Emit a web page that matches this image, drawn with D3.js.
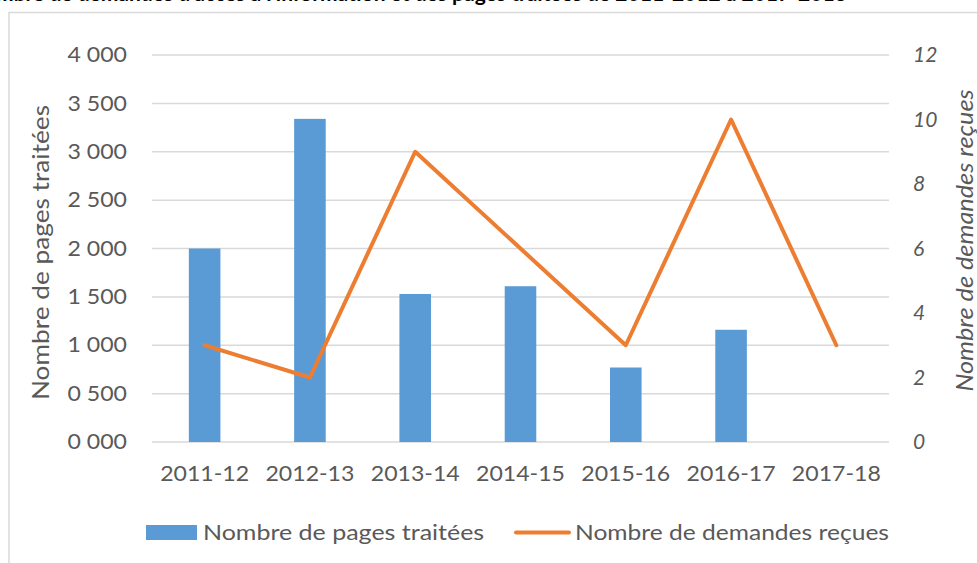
<!DOCTYPE html>
<html>
<head>
<meta charset="utf-8">
<script src="https://cdn.jsdelivr.net/npm/d3@7"></script>
<style>
  body { margin: 0; background: #fff; }
  svg { display: block; }
  text { font-family: Lato, "Open Sans", sans-serif; }
</style>
</head>
<body>
<div id="chart"></div>
<script>
// data
const categories = ["2011-12", "2012-13", "2013-14", "2014-15", "2015-16", "2016-17", "2017-18"];
const pages = [2000, 3340, 1530, 1610, 770, 1160, null];
const demandes = [3, 2, 9, 6, 3, 10, 3];
const leftTicks = [0, 500, 1000, 1500, 2000, 2500, 3000, 3500, 4000];
const leftTickLabels = ["0 000", "0 500", "1 000", "1 500", "2 000", "2 500", "3 000", "3 500", "4 000"];
const rightTicks = [0, 2, 4, 6, 8, 10, 12];

const W = 977, H = 563;
const margin = { top: 55, right: 88, bottom: 121, left: 152 };
const width = W - margin.left - margin.right,
  height = H - margin.top - margin.bottom;

const svg = d3.select("#chart").append("svg").attr("width", W).attr("height", H);

// the original text is a bit wider than Lato, so widen it
function stretch(sel, k) {
  sel.each(function () {
    const len = this.getComputedTextLength();
    d3.select(this).attr("textLength", len * k).attr("lengthAdjust", "spacingAndGlyphs");
  });
}

// cut-off title at the very top
const titleText = "Nombre de demandes d'accès à l'information et des pages traitées de 2011-2012 à 2017-2018";
const prefix = "Nombre de demandes d'accès à l'information et des ";
const tmp = svg.append("text").style("font-size", "21px").style("font-weight", "bold").text(prefix);
const prefixW = tmp.node().getComputedTextLength();
tmp.remove();
svg.append("text")
  .attr("x", 447 - prefixW)
  .attr("y", 0.7)
  .style("font-size", "21px")
  .style("font-weight", "bold")
  .style("fill", "#000")
  .text(titleText);

// chart frame
svg.append("path")
  .attr("d", `M9,${H + 5}V12.5H${W + 5}`)
  .attr("fill", "none")
  .attr("stroke", "#d9d9d9")
  .attr("stroke-width", 1.5);

const g = svg.append("g").attr("transform", `translate(${margin.left},${margin.top})`);

const x = d3.scaleBand().domain(categories).range([0, width]).paddingInner(0.7).paddingOuter(0.35);
const y = d3.scaleLinear().domain([0, 4000]).range([height, 0]);
const y2 = d3.scaleLinear().domain([0, 12]).range([height, 0]);

// gridlines
g.append("g")
  .selectAll("line")
  .data(leftTicks)
  .join("line")
  .attr("x1", 0)
  .attr("x2", width)
  .attr("y1", (d) => y(d))
  .attr("y2", (d) => y(d))
  .attr("stroke", "#d9d9d9")
  .attr("stroke-width", 1.5);

// left axis
const yAxis = g.append("g")
  .call(d3.axisLeft(y).tickValues(leftTicks).tickSize(0).tickPadding(25)
    .tickFormat((d, i) => leftTickLabels[i]));
yAxis.select(".domain").remove();
yAxis.selectAll("text")
  .style("font-size", "21px")
  .style("fill", "#595959")
  .style("font-family", "Lato, sans-serif")
  .call(stretch, 1.1);

// right axis
const y2Axis = g.append("g")
  .attr("transform", `translate(${width},0)`)
  .call(d3.axisRight(y2).tickValues(rightTicks).tickSize(0).tickPadding(24));
y2Axis.select(".domain").remove();
y2Axis.selectAll("text")
  .style("font-size", "21px")
  .style("font-style", "italic")
  .style("fill", "#595959")
  .style("font-family", "Lato, sans-serif");

// x axis labels
const xAxis = g.append("g")
  .attr("transform", `translate(0,${height})`)
  .call(d3.axisBottom(x).tickSize(0).tickPadding(24));
xAxis.select(".domain").remove();
xAxis.selectAll("text")
  .style("font-size", "21px")
  .style("fill", "#595959")
  .style("font-family", "Lato, sans-serif")
  .call(stretch, 1.1);

// bars
g.append("g")
  .selectAll("rect")
  .data(categories.map((c, i) => ({ c, v: pages[i] })).filter((d) => d.v != null))
  .join("rect")
  .attr("x", (d) => x(d.c))
  .attr("y", (d) => y(d.v))
  .attr("width", x.bandwidth())
  .attr("height", (d) => height - y(d.v))
  .attr("fill", "#5b9bd5");

// line
const line = d3.line()
  .x((d, i) => x(categories[i]) + x.bandwidth() / 2)
  .y((d) => y2(d));
g.append("path")
  .datum(demandes)
  .attr("d", line)
  .attr("fill", "none")
  .attr("stroke", "#ed7d31")
  .attr("stroke-width", 4)
  .attr("stroke-linejoin", "round")
  .attr("stroke-linecap", "round");

// axis titles
svg.append("text")
  .attr("transform", `translate(49,${margin.top + height / 2 + 4}) rotate(-90)`)
  .attr("text-anchor", "middle")
  .style("font-size", "23px")
  .style("fill", "#595959")
  .text("Nombre de pages traitées")
  .call(stretch, 1.14);

svg.append("text")
  .attr("transform", `translate(973,${margin.top + height / 2 - 8}) rotate(-90)`)
  .attr("text-anchor", "middle")
  .style("font-size", "23px")
  .style("font-style", "italic")
  .style("fill", "#595959")
  .text("Nombre de demandes reçues")
  .call(stretch, 1.1);

// legend
const legend = svg.append("g");
legend.append("rect")
  .attr("x", 146).attr("y", 525).attr("width", 51).attr("height", 15)
  .attr("fill", "#5b9bd5");
legend.append("text")
  .attr("x", 203).attr("y", 540)
  .style("font-size", "21px").style("fill", "#595959")
  .text("Nombre de pages traitées")
  .call(stretch, 1.19);
legend.append("line")
  .attr("x1", 516).attr("x2", 569).attr("y1", 532.5).attr("y2", 532.5)
  .attr("stroke", "#ed7d31").attr("stroke-width", 4).attr("stroke-linecap", "round");
legend.append("text")
  .attr("x", 575).attr("y", 540)
  .style("font-size", "21px").style("fill", "#595959")
  .text("Nombre de demandes reçues")
  .call(stretch, 1.17);
</script>
</body>
</html>
